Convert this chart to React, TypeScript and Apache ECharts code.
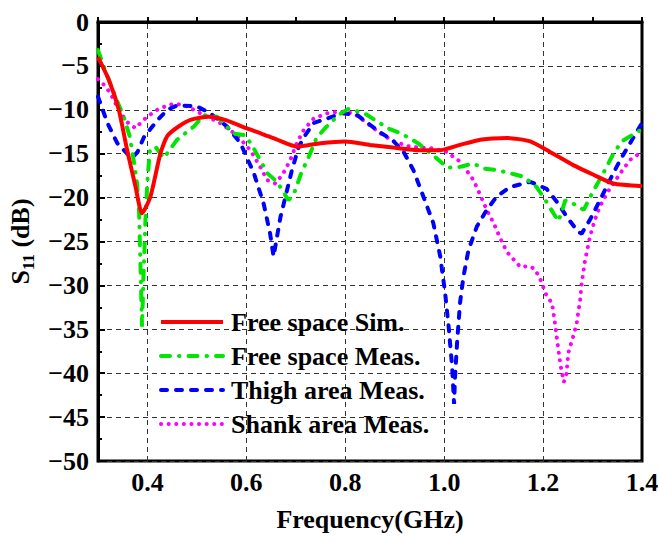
import React, { useEffect, useRef } from 'react';
import * as echarts from 'echarts';

const FONT = "'Liberation Serif', 'Times New Roman', Times, serif";

const SERIES_NAMES = ['Free space Sim.', 'Free space Meas.', 'Thigh area Meas.', 'Shank area Meas.'];
const SERIES_COLORS = ['#ff0000', '#00e600', '#0000ff', '#ff00ff'];

// Free space Sim. (solid red)
const simFreq = [0.300, 0.322, 0.342, 0.359, 0.376, 0.389, 0.406, 0.426, 0.440, 0.463, 0.490, 0.523, 0.560, 0.600, 0.630, 0.662, 0.702, 0.750, 0.800, 0.850, 0.897, 0.950, 0.992, 1.032, 1.073, 1.127, 1.174, 1.214, 1.261, 1.302, 1.342, 1.400];
const simS11 = [-4.0, -6.6, -10.0, -14.6, -18.8, -21.8, -19.9, -15.0, -13.0, -11.9, -11.1, -10.8, -11.2, -12.1, -12.7, -13.4, -14.2, -13.8, -13.6, -14.0, -14.3, -14.6, -14.6, -14.0, -13.4, -13.2, -13.6, -14.8, -16.3, -17.4, -18.4, -18.7];

// Free space Meas. (green dash-dot)
const freeFreq = [0.300, 0.315, 0.335, 0.352, 0.364, 0.372, 0.379, 0.383, 0.386, 0.389, 0.392, 0.396, 0.400, 0.405, 0.416, 0.433, 0.460, 0.494, 0.514, 0.541, 0.574, 0.598, 0.615, 0.642, 0.662, 0.685, 0.696, 0.711, 0.725, 0.742, 0.759, 0.786, 0.806, 0.839, 0.886, 0.913, 0.947, 0.980, 1.007, 1.032, 1.059, 1.080, 1.110, 1.160, 1.187, 1.207, 1.231, 1.241, 1.245, 1.261, 1.282, 1.302, 1.322, 1.342, 1.359, 1.400];
const freeS11 = [-3.2, -5.6, -8.5, -10.8, -13.0, -15.7, -18.4, -21.5, -28.0, -34.7, -29.0, -22.5, -18.0, -14.6, -14.2, -15.5, -13.4, -11.9, -10.6, -10.8, -12.7, -12.9, -14.4, -17.2, -18.2, -20.3, -19.6, -17.2, -15.5, -13.2, -12.1, -10.6, -9.9, -10.4, -12.1, -12.7, -13.8, -15.3, -16.6, -16.5, -16.1, -16.7, -16.9, -17.6, -18.8, -20.5, -22.7, -21.0, -20.3, -20.7, -21.4, -19.2, -17.2, -15.0, -13.6, -12.2];

// Thigh area Meas. (blue dashed)
const thighFreq = [0.300, 0.319, 0.339, 0.359, 0.369, 0.380, 0.393, 0.420, 0.440, 0.460, 0.500, 0.527, 0.561, 0.588, 0.615, 0.635, 0.648, 0.655, 0.669, 0.679, 0.692, 0.706, 0.719, 0.736, 0.763, 0.793, 0.824, 0.864, 0.898, 0.918, 0.938, 0.958, 0.978, 0.992, 1.002, 1.009, 1.016, 1.020, 1.022, 1.026, 1.032, 1.039, 1.049, 1.066, 1.086, 1.106, 1.133, 1.174, 1.207, 1.231, 1.248, 1.271, 1.278, 1.295, 1.315, 1.335, 1.356, 1.376, 1.400];
const thighS11 = [-8.5, -11.5, -13.8, -15.0, -15.5, -14.8, -13.1, -11.2, -10.0, -9.5, -9.6, -10.4, -11.9, -13.8, -17.2, -20.7, -24.1, -26.7, -22.2, -19.9, -16.9, -14.2, -12.9, -11.5, -11.0, -10.4, -10.6, -12.3, -13.6, -14.8, -16.9, -19.9, -22.9, -26.7, -30.9, -34.7, -39.2, -43.5, -40.4, -36.6, -32.0, -29.0, -26.0, -23.3, -21.4, -19.9, -18.8, -18.2, -19.0, -20.7, -22.2, -23.9, -24.1, -22.5, -20.3, -18.0, -15.7, -13.8, -11.5];

// Shank area Meas. (magenta dotted)
const shankFreq = [0.300, 0.313, 0.325, 0.342, 0.359, 0.376, 0.386, 0.399, 0.420, 0.440, 0.457, 0.480, 0.514, 0.547, 0.581, 0.608, 0.628, 0.642, 0.659, 0.675, 0.689, 0.702, 0.716, 0.736, 0.763, 0.790, 0.817, 0.844, 0.871, 0.898, 0.931, 0.978, 1.005, 1.032, 1.049, 1.059, 1.073, 1.086, 1.100, 1.113, 1.127, 1.154, 1.170, 1.183, 1.196, 1.207, 1.218, 1.224, 1.231, 1.236, 1.242, 1.247, 1.251, 1.261, 1.268, 1.275, 1.278, 1.285, 1.295, 1.305, 1.315, 1.329, 1.342, 1.359, 1.376, 1.400];
const shankS11 = [-6.5, -7.2, -8.1, -10.0, -11.4, -12.1, -11.5, -10.8, -10.0, -9.5, -9.3, -9.6, -10.6, -11.5, -12.9, -14.6, -16.5, -18.0, -18.4, -17.2, -15.7, -13.8, -12.3, -11.0, -10.4, -10.2, -10.4, -11.5, -12.7, -13.6, -14.2, -14.4, -14.8, -15.9, -17.2, -18.0, -19.7, -21.4, -22.9, -24.6, -26.2, -27.9, -27.8, -28.1, -29.5, -31.2, -32.0, -34.3, -37.4, -39.3, -41.0, -40.2, -37.7, -35.8, -34.3, -31.6, -29.8, -27.1, -24.4, -22.5, -21.0, -19.5, -18.4, -17.0, -15.7, -14.8];

const X_GRID = [0.4, 0.6, 0.8, 1.0, 1.2];
const X_MIN = 0.3;
const X_MAX = 1.4;
const Y_MIN = -50;
const Y_MAX = 0;

const pairs = (f: number[], v: number[]) => f.map((x, i) => [x, v[i]]);

export default function App() {
  const ref = useRef<HTMLDivElement>(null);

  useEffect(() => {
    if (!ref.current) return;
    const chart = echarts.init(ref.current, null, { renderer: 'svg' });
    const lbl = { fontFamily: FONT, fontWeight: 'bold' as const, fontSize: 26, color: '#000' };
    const gridLine = { color: '#333', width: 1, type: [5, 4] as number[] };

    chart.setOption({
      animation: false,
      backgroundColor: '#fff',
      grid: {
        left: 98, right: 16, top: 22, bottom: 80,
        show: true, borderColor: '#000', borderWidth: 3,
        outerBoundsMode: 'none',
      },
      xAxis: {
        type: 'value', min: X_MIN, max: X_MAX, interval: 0.1,
        name: 'Frequency(GHz)', nameLocation: 'middle', nameGap: 45,
        nameTextStyle: lbl,
        axisLine: { show: true, lineStyle: { color: '#000', width: 3 } },
        axisTick: { show: true, inside: true, length: 5, lineStyle: { color: '#000', width: 2 } },
        axisLabel: {
          ...lbl, margin: 8,
          formatter: (v: number) => (Math.round(v * 10) % 2 === 0 ? v.toFixed(1) : ''),
        },
        splitLine: { show: false },
      },
      yAxis: {
        type: 'value', min: Y_MIN, max: Y_MAX, interval: 5,
        name: '{m|S}{s|11}{m| (dB)}', nameLocation: 'middle', nameGap: 51,
        nameTextStyle: {
          ...lbl,
          rich: {
            m: { ...lbl, lineHeight: 34, verticalAlign: 'middle' },
            s: { ...lbl, fontSize: 17, lineHeight: 17, verticalAlign: 'bottom' },
          },
        },
        axisLine: { show: true, lineStyle: { color: '#000', width: 3 } },
        axisTick: { show: true, inside: true, length: 7, lineStyle: { color: '#000', width: 2 } },
        minorTick: { show: true, splitNumber: 2, length: 4, lineStyle: { color: '#000', width: 2 } },
        axisLabel: {
          ...lbl, margin: 9,
          formatter: (v: number) => (v === 0 ? '0' : '\u2212' + Math.abs(v)),
        },
        splitLine: { show: true, lineStyle: gridLine },
      },
      legend: {
        orient: 'vertical', left: 159, top: 309, padding: 0,
        itemWidth: 62, itemHeight: 14, itemGap: 8,
        data: SERIES_NAMES,
        textStyle: { ...lbl, lineHeight: 26, padding: [0, 0, 0, 3] },
        lineStyle: { width: 4 },
        itemStyle: { opacity: 0 },
      },
      series: [
        {
          name: SERIES_NAMES[0], type: 'line', data: pairs(simFreq, simS11),
          symbol: 'none', smooth: 0.2, z: 5,
          lineStyle: { color: SERIES_COLORS[0], width: 4, type: 'solid' },
          itemStyle: { color: SERIES_COLORS[0] },
          markLine: {
            silent: true, symbol: ['none', 'none'], z: 1,
            label: { show: false },
            lineStyle: gridLine,
            emphasis: { disabled: true },
            data: X_GRID.map((x) => ({ xAxis: x })),
          },
        },
        {
          name: SERIES_NAMES[1], type: 'line', data: pairs(freeFreq, freeS11),
          symbol: 'none', z: 4,
          lineStyle: { color: SERIES_COLORS[1], width: 4, type: [9, 9, 0.5, 9], cap: 'round' },
          itemStyle: { color: SERIES_COLORS[1] },
        },
        {
          name: SERIES_NAMES[2], type: 'line', data: pairs(thighFreq, thighS11),
          symbol: 'none', z: 3,
          lineStyle: { color: SERIES_COLORS[2], width: 4, type: [6, 9], cap: 'round' },
          itemStyle: { color: SERIES_COLORS[2] },
        },
        {
          name: SERIES_NAMES[3], type: 'line', data: pairs(shankFreq, shankS11),
          symbol: 'none', z: 2,
          lineStyle: { color: SERIES_COLORS[3], width: 4, type: [0.1, 7.5], cap: 'round' },
          itemStyle: { color: SERIES_COLORS[3] },
        },
      ],
    });
    return () => chart.dispose();
  }, []);

  return (
    <div
      ref={ref}
      style={{ position: 'fixed', left: 0, top: 0, width: 658, height: 541, background: '#fff' }}
    />
  );
}
